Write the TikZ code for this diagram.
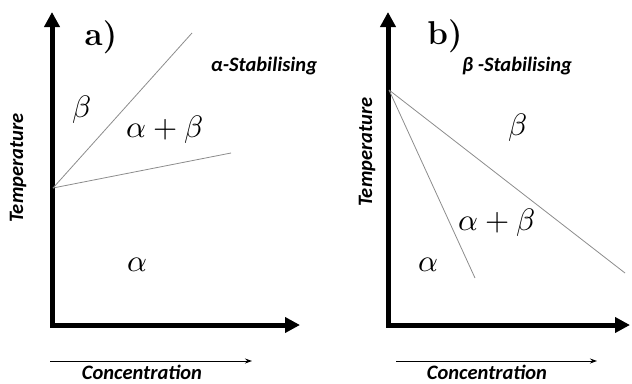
\documentclass[tikz,border=0pt]{standalone}
\usepackage{unicode-math}
\setmathfont{Latin Modern Math}
\newfontfamily\lab{Carlito}
\usetikzlibrary{arrows.meta}
\begin{document}
\begin{tikzpicture}[x=1pt,y=-1pt,
  axis/.style={line width=5pt,{Triangle[length=15pt,width=15pt]}-{Triangle[length=15pt,width=15pt]},line join=miter},
  phaseline/.style={draw=black!45,line width=0.8pt},
  conc/.style={line width=1pt,-{Stealth[length=7pt,width=5pt]}},
  lbl/.style={font=\lab\bfseries\itshape\fontsize{20.5}{20.5}\selectfont,inner sep=0pt},
  panel/.style={font=\bfseries\fontsize{33}{33}\selectfont,inner sep=0pt},
  phase/.style={font=\fontsize{31}{31}\selectfont,inner sep=0pt}]
\useasboundingbox (0,0) rectangle (632,383);
% ---------- panel a ----------
\coordinate (aT) at (52,12);
\coordinate (aO) at (52,325);
\coordinate (aR) at (300,325);
\draw[axis] (aT) -- (aO) -- (aR);
\coordinate (aP) at (53,188);
\coordinate (a1) at (192,33);
\coordinate (a2) at (231,153);
\draw[phaseline] (aP) -- (a1);
\draw[phaseline] (aP) -- (a2);
\node[panel] (alabel) at (101,37) {a)};
\node[lbl] (astab) at (264,66) {α-Stabilising};
\node[phase] (abeta) at (82,110) {$\beta$};
\node[phase] (aab) at (165,130) {$\alpha+\beta$};
\node[phase] (aalpha) at (137,265) {$\alpha$};
\node[lbl,rotate=90] (atemp) at (18,168) {Temperature};
\coordinate (ac1) at (50,361);
\coordinate (ac2) at (252,361);
\draw[conc] (ac1) -- (ac2);
\node[lbl,anchor=base] (aconc) at (142,379) {Concentration};
% ---------- panel b ----------
\coordinate (bT) at (388,12);
\coordinate (bO) at (388,325);
\coordinate (bR) at (630,325);
\draw[axis] (bT) -- (bO) -- (bR);
\coordinate (bP) at (389,90);
\coordinate (b1) at (475,278);
\coordinate (b2) at (625,273);
\draw[phaseline] (bP) -- (b1);
\draw[phaseline] (bP) -- (b2);
\node[panel] (blabel) at (445,36) {b)};
\node[lbl] (bstab) at (517,66) {β -Stabilising};
\node[phase] (bbeta) at (518,128) {$\beta$};
\node[phase] (bab) at (497,223) {$\alpha+\beta$};
\node[phase] (balpha) at (428,265) {$\alpha$};
\node[lbl,rotate=90] (btemp) at (367,152) {Temperature};
\coordinate (bc1) at (396,361);
\coordinate (bc2) at (597,361);
\draw[conc] (bc1) -- (bc2);
\node[lbl,anchor=base] (bconc) at (487,379) {Concentration};
\end{tikzpicture}
\end{document}
